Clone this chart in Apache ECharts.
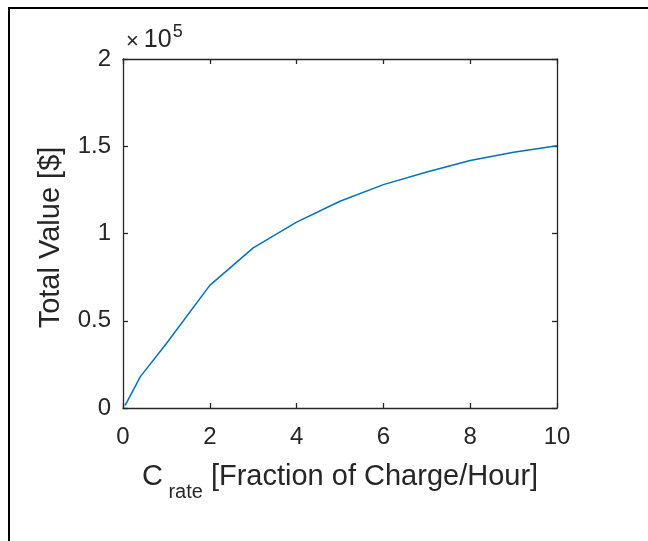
<!DOCTYPE html>
<html>
<head>
<meta charset="utf-8">
<script src="https://cdn.jsdelivr.net/npm/echarts@6/dist/echarts.min.js"></script>
<style>
  html, body { margin: 0; padding: 0; background: #fff; }
  #chart { width: 648px; height: 541px; }
</style>
</head>
<body>
<div id="chart"></div>
<script>
// C-rate (fraction of charge per hour)
var cRate = [0.05, 0.4, 1, 2, 3, 4, 5, 6, 7, 8, 9, 10]
// total value in dollars
var totalValue = [1500, 18000, 37000, 70300, 91800, 106500, 118500, 128000, 135200, 141800, 146500, 150300]
var xTicks = [0, 2, 4, 6, 8, 10]
var yTicks = [0, 0.5, 1, 1.5, 2]   // x 10^5

var axisColor = '#262626'
var font = 'Liberation Sans, Arial, Helvetica, sans-serif'

var myChart = echarts.init(document.getElementById('chart'))

var baseAxis = {
    axisLine: { show: true, onZero: false, lineStyle: { color: axisColor, width: 1.3 } },
    axisTick: { show: true, inside: true, length: 5, lineStyle: { color: axisColor, width: 1.3 } },
    splitLine: { show: false }
}

var option = {
    animation: false,
    backgroundColor: '#fff',
    grid: { left: 123, right: 91, top: 59, bottom: 133 },
    xAxis: [
        Object.assign({}, baseAxis, {
            type: 'value', position: 'bottom',
            min: xTicks[0], max: xTicks[xTicks.length - 1], interval: 2,
            axisLabel: { color: axisColor, fontSize: 24, fontFamily: font, margin: 17 },
            name: '{c|C}{s| rate}{c| [Fraction of Charge/Hour]}',
            nameLocation: 'middle', nameGap: 54,
            nameTextStyle: {
                color: axisColor, fontFamily: font,
                rich: {
                    c: { fontSize: 29, fontFamily: font, color: axisColor, lineHeight: 28, verticalAlign: 'top' },
                    s: { fontSize: 20, fontFamily: font, color: axisColor, lineHeight: 40, verticalAlign: 'bottom' }
                }
            }
        }),
        Object.assign({}, baseAxis, {
            type: 'value', position: 'top',
            min: 0, max: 10, interval: 2,
            axisLabel: { show: false }
        })
    ],
    yAxis: [
        Object.assign({}, baseAxis, {
            type: 'value', position: 'left',
            min: 0, max: 200000, interval: 50000,
            axisLabel: {
                color: axisColor, fontSize: 24, fontFamily: font, margin: 12,
                formatter: function (v) { return String(v / 100000) }
            },
            name: 'Total Value [$]',
            nameLocation: 'middle', nameGap: 58,
            nameTextStyle: { color: axisColor, fontSize: 29, fontFamily: font, padding: [0, 8, 0, 0] }
        }),
        Object.assign({}, baseAxis, {
            type: 'value', position: 'right',
            min: 0, max: 200000, interval: 50000,
            axisLabel: { show: false }
        })
    ],
    graphic: [
        {
            type: 'rect', silent: true,
            shape: { x: 9, y: 8, width: 800, height: 700 },
            style: { fill: 'none', stroke: '#000', lineWidth: 2 }
        },
        {
            type: 'text', left: 126, top: 23,
            style: {
                text: '{x|\u00d7}{a|10}{b|5}',
                rich: {
                    x: { fontSize: 22, fontFamily: font, fill: axisColor, lineHeight: 30, verticalAlign: 'bottom', padding: [0, 5, 0, 0] },
                    a: { fontSize: 25, fontFamily: font, fill: axisColor, lineHeight: 30, verticalAlign: 'bottom' },
                    b: { fontSize: 18, fontFamily: font, fill: axisColor, lineHeight: 30, verticalAlign: 'top', padding: [0, 0, 0, 1] }
                }
            }
        }
    ],
    series: [{
        type: 'line',
        xAxisIndex: 0, yAxisIndex: 0,
        data: cRate.map(function (x, i) { return [x, totalValue[i]] }),
        showSymbol: false,
        lineStyle: { color: '#0072BD', width: 1.5 }
    }]
}
myChart.setOption(option)
</script>
</body>
</html>
